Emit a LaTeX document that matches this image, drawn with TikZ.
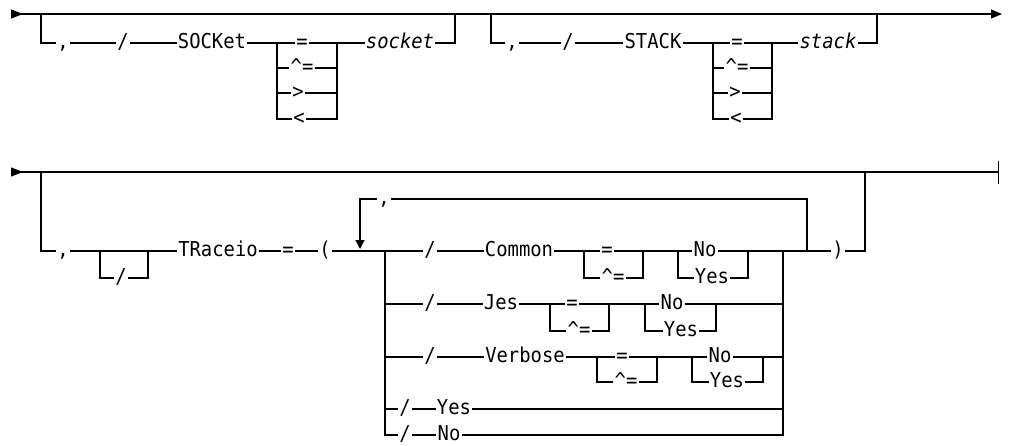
\documentclass[tikz,border=0pt]{standalone}
\usepackage{fontspec}
\newfontfamily\railfont[FakeStretch=0.92]{DejaVu Sans Mono}
\usetikzlibrary{arrows.meta}

\begin{document}
\begin{tikzpicture}[
  x=1pt, y=-1pt,
  every node/.style={font=\railfont\fontsize{20.5}{20.5}\selectfont, inner xsep=1pt, inner ysep=0pt, text height=13pt, text depth=2pt},
  var/.style={font=\railfont\itshape\fontsize{20.5}{20.5}\selectfont},
  rail/.style={line width=1.2pt, color=black},
  railcont/.style={{Triangle[reversed,length=12pt,width=9pt]}-{Triangle[length=11pt,width=9pt]}},
  railend/.style={{Triangle[reversed,length=12pt,width=9pt]}-{Bar[width=23pt]}},
  loopin/.style={-{Triangle[length=9pt,width=9pt]}}
]
\useasboundingbox (0,0) rectangle (1009,445);

% Fila 1: SOCKet y STACK
\coordinate (r1s) at (11,14);
\coordinate (r1e) at (1002,14);
\coordinate (k1a) at (41,14);
\node (com1) at (63,43) {,};
\node (sl1) at (123,43) {/};
\node (sock) at (212,43) {SOCKet};
\coordinate (sL) at (277,43);
\coordinate (sR) at (337,43);
\node (sEq) at (302,43) {=};
\node (sNe) at (302,68) {\textasciicircum=};
\node (sGt) at (298,93) {>};
\node (sLt) at (299,119) {<};
\node[var] (sockv) at (400,43) {socket};
\coordinate (k1b) at (455,14);

\coordinate (k2a) at (491,14);
\node (com2) at (512,43) {,};
\node (sl2) at (568,43) {/};
\node (stk) at (653,43) {STACK};
\coordinate (tL) at (713,43);
\coordinate (tR) at (772,43);
\node (tEq) at (737,43) {=};
\node (tNe) at (737,68) {\textasciicircum=};
\node (tGt) at (735,93) {>};
\node (tLt) at (736,119) {<};
\node[var] (stkv) at (828,43) {stack};
\coordinate (k2b) at (877,14);

\draw[rail,railcont] (r1s) -- (r1e);
\draw[rail] (k1a) |- (com1) -- (sl1) -- (sock) -- (sEq) -- (sockv) -| (k1b);
\draw[rail] (sL) |- (sNe) -| (sR);
\draw[rail] (sL) |- (sGt) -| (sR);
\draw[rail] (sL) |- (sLt) -| (sR);
\draw[rail] (k2a) |- (com2) -- (sl2) -- (stk) -- (tEq) -- (stkv) -| (k2b);
\draw[rail] (tL) |- (tNe) -| (tR);
\draw[rail] (tL) |- (tGt) -| (tR);
\draw[rail] (tL) |- (tLt) -| (tR);

% Fila 2: TRaceio
\coordinate (r2s) at (11,172);
\coordinate (r2e) at (999,172);
\coordinate (mk1) at (875,172);
\coordinate (mk2) at (898,172);
\coordinate (k3a) at (41,172);
\node (com3) at (63,251) {,};
\coordinate (oL) at (100,251);
\coordinate (oR) at (148,251);
\node (osl) at (121,278) {/};
\node (trc) at (218,251) {TRaceio};
\node (teq) at (288,251) {=};
\node (lpar) at (325,251) {(};
\coordinate (lpL) at (360,249);
\node (lcom) at (384,199) {,};
\coordinate (lpR) at (807,251);
\coordinate (aL) at (385,251);
\coordinate (aR) at (783,251);
\node (rpar) at (838,251) {)};
\coordinate (k3b) at (865,172);

% alternativas
\node (a1sl) at (430,251) {/};
\node (cmn) at (519,251) {Common};
\coordinate (c1L) at (584,251);
\coordinate (c1R) at (643,251);
\node (c1Eq) at (607,251) {=};
\node (c1Ne) at (613,278) {\textasciicircum=};
\coordinate (c2L) at (678,251);
\coordinate (c2R) at (748,251);
\node (c1No) at (705,251) {No};
\node (c1Ye) at (712,278) {Yes};

\node (a2sl) at (430,304) {/};
\node (jes) at (501,304) {Jes};
\coordinate (j1L) at (550,304);
\coordinate (j1R) at (609,304);
\node (jEq) at (572,304) {=};
\node (jNe) at (579,331) {\textasciicircum=};
\coordinate (j2L) at (645,304);
\coordinate (j2R) at (716,304);
\node (jNo) at (672,304) {No};
\node (jYe) at (681,331) {Yes};

\node (a3sl) at (430,357) {/};
\node (vrb) at (525,357) {Verbose};
\coordinate (v1L) at (597,357);
\coordinate (v1R) at (657,357);
\node (vEq) at (622,357) {=};
\node (vNe) at (626,382) {\textasciicircum=};
\coordinate (v2L) at (692,357);
\coordinate (v2R) at (763,357);
\node (vNo) at (720,357) {No};
\node (vYe) at (727,382) {Yes};

\node (a4sl) at (405,409) {/};
\node (a4ye) at (454,409) {Yes};
\node (a5sl) at (405,435) {/};
\node (a5no) at (449,435) {No};

\draw[rail,railend] (r2s) -- (r2e);
\draw[line width=2.2pt] (mk1) -- (mk2);
\draw[rail] (k3a) |- (com3) -- (trc) -- (teq) -- (lpar) -- (a1sl) -- (cmn) -- (c1Eq) -- (c1No) -- (rpar) -| (k3b);
\draw[rail] (oL) |- (osl) -| (oR);
\draw[rail] (lpR) |- (lcom);
\draw[rail,loopin] (lcom) -| (lpL);
\draw[rail] (c1L) |- (c1Ne) -| (c1R);
\draw[rail] (c2L) |- (c1Ye) -| (c2R);
\draw[rail] (aL) |- (a2sl) -- (jes) -- (jEq) -- (jNo) -| (aR);
\draw[rail] (j1L) |- (jNe) -| (j1R);
\draw[rail] (j2L) |- (jYe) -| (j2R);
\draw[rail] (aL) |- (a3sl) -- (vrb) -- (vEq) -- (vNo) -| (aR);
\draw[rail] (v1L) |- (vNe) -| (v1R);
\draw[rail] (v2L) |- (vYe) -| (v2R);
\draw[rail] (aL) |- (a4sl) -- (a4ye) -| (aR);
\draw[rail] (aL) |- (a5sl) -- (a5no) -| (aR);
\end{tikzpicture}
\end{document}
